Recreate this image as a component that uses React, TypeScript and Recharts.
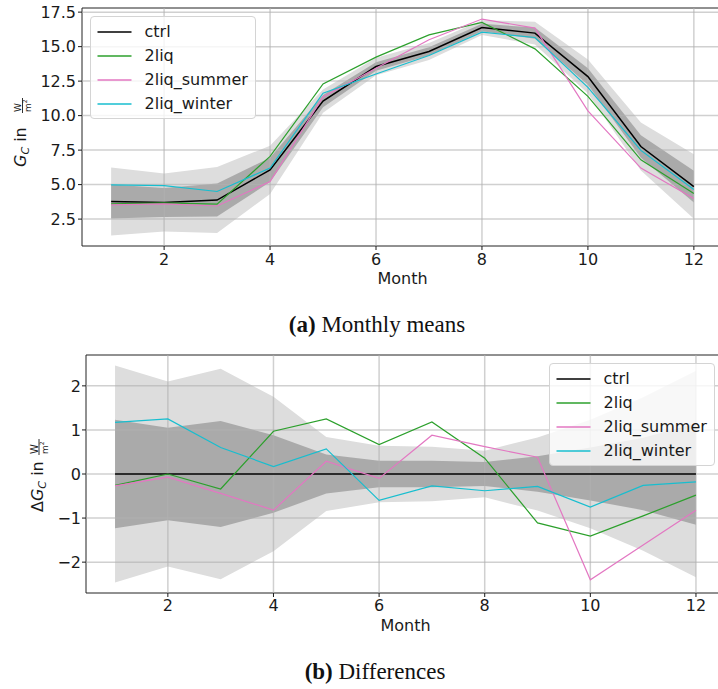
import React from 'react';
import { ComposedChart, Line, Area, XAxis, YAxis, ReferenceLine, ReferenceArea, Legend } from 'recharts';

const months = [1, 2, 3, 4, 5, 6, 7, 8, 9, 10, 11, 12];

// monthly means (W/m2)
const ctrlMean = [3.78, 3.7, 3.88, 6.07, 11.05, 13.56, 14.65, 16.38, 15.98, 12.83, 7.76, 4.86];
const liqMean = [3.6, 3.68, 3.58, 7.04, 12.3, 14.24, 15.85, 16.75, 14.84, 11.4, 6.8, 4.35];
const summerMean = [3.53, 3.6, 3.45, 5.22, 11.35, 13.44, 15.5, 17.0, 16.34, 10.35, 6.2, 4.0];
const winterMean = [4.98, 4.92, 4.5, 6.2, 11.62, 13.02, 14.36, 16.05, 15.66, 12.05, 7.48, 4.65];

// differences to ctrl
const ctrlDiff = [0, 0, 0, 0, 0, 0, 0, 0, 0, 0, 0, 0];
const liqDiff = [-0.26, 0.0, -0.34, 0.97, 1.25, 0.67, 1.18, 0.36, -1.11, -1.41, -0.95, -0.48];
const summerDiff = [-0.27, -0.07, -0.44, -0.82, 0.29, -0.1, 0.88, 0.62, 0.38, -2.4, -1.61, -0.82];
const winterDiff = [1.17, 1.25, 0.6, 0.17, 0.57, -0.6, -0.27, -0.38, -0.28, -0.75, -0.26, -0.18];

// spread of ctrl (half widths of the grey bands)
const sd1 = [1.23, 1.05, 1.2, 0.88, 0.44, 0.3, 0.3, 0.27, 0.4, 0.6, 0.82, 1.15];
const sd2 = [2.46, 2.1, 2.39, 1.75, 0.84, 0.64, 0.62, 0.53, 0.83, 1.23, 1.74, 2.34];

const xTicks = [2, 4, 6, 8, 10, 12];
const meanTicks = [2.5, 5, 7.5, 10, 12.5, 15, 17.5];
const diffTicks = [-2, -1, 0, 1, 2];

const seriesKeys = ['ctrl', 'liq', 'summer', 'winter'];
const seriesNames = ['ctrl', '2liq', '2liq_summer', '2liq_winter'];
const seriesColors = ['#000000', '#2ca02c', '#e377c2', '#17becf'];

const meanRows = months.map((m, i) => ({
  month: m,
  ctrl: ctrlMean[i],
  liq: liqMean[i],
  summer: summerMean[i],
  winter: winterMean[i],
  outer: [ctrlMean[i] - sd2[i], ctrlMean[i] + sd2[i]],
  inner: [ctrlMean[i] - sd1[i], ctrlMean[i] + sd1[i]],
}));

const diffRows = months.map((m, i) => ({
  month: m,
  ctrl: ctrlDiff[i],
  liq: liqDiff[i],
  summer: summerDiff[i],
  winter: winterDiff[i],
  outer: [-sd2[i], sd2[i]],
  inner: [-sd1[i], sd1[i]],
}));

const FONT = '"DejaVu Sans", sans-serif';
const INK = '#1a1a1a';
const X_DOMAIN: [number, number] = [0.45, 12.55];

function LegendBox() {
  return (
    <div
      style={{
        width: 166,
        height: 103,
        boxSizing: 'border-box',
        border: '1px solid #d4d4d4',
        borderRadius: 4,
        background: 'rgba(255,255,255,0.8)',
        position: 'relative',
        fontFamily: FONT,
        fontSize: 16,
        color: INK,
      }}
    >
      {seriesNames.map((n, i) => (
        <div
          key={n}
          style={{ position: 'absolute', left: 0, top: 14.5 + i * 24.3 - 10, height: 20, display: 'flex', alignItems: 'center' }}
        >
          <svg width={41} height={20} style={{ display: 'block' }}>
            <line x1={6.5} x2={40.5} y1={10} y2={10} stroke={seriesColors[i]} strokeWidth={1.5} />
          </svg>
          <span style={{ marginLeft: 12.5, lineHeight: '20px', whiteSpace: 'nowrap' }}>{n}</span>
        </div>
      ))}
    </div>
  );
}

// "G_C in W/m²" rotated, coordinates are the chart svg's own
function MeanYLabel() {
  return (
    <g transform="translate(26,167) rotate(-90)" fill={INK} fontFamily={FONT}>
      <text x={0} y={0} fontSize={16}>
        <tspan fontStyle="italic">G</tspan>
        <tspan fontStyle="italic" fontSize={11} dy={3}>C</tspan>
        <tspan dy={-3}> in</tspan>
      </text>
      <text x={55} y={-5} fontSize={9}>W</text>
      <line x1={54} x2={69} y1={-3.5} y2={-3.5} stroke={INK} strokeWidth={0.9} />
      <text x={55} y={4.5} fontSize={9}>
        m<tspan fontSize={6} dy={-3.5}>2</tspan>
      </text>
    </g>
  );
}

function DiffYLabel() {
  return (
    <g transform="translate(43,172) rotate(-90)" fill={INK} fontFamily={FONT}>
      <text x={0} y={0} fontSize={16}>
        <tspan>Δ</tspan>
        <tspan fontStyle="italic">G</tspan>
        <tspan fontStyle="italic" fontSize={11} dy={3}>C</tspan>
        <tspan dy={-3}> in</tspan>
      </text>
      <text x={58} y={-5.5} fontSize={10}>W</text>
      <line x1={57} x2={73} y1={-4} y2={-4} stroke={INK} strokeWidth={0.9} />
      <text x={58} y={4.5} fontSize={9}>
        m<tspan fontSize={6} dy={-3.5}>2</tspan>
      </text>
    </g>
  );
}

type PanelProps = {
  data: any[];
  width: number;
  height: number;
  marginTop: number;
  yAxisWidth: number;
  xAxisHeight: number;
  yDomain: [number, number];
  yTicks: number[];
  fmt: (v: number) => string;
  yTickMargin: number;
  xTickMargin: number;
  monthOffset: number;
  legendLeft: number;
  legendTop: number;
  yLabel: React.ReactElement;
};

function Panel(p: PanelProps) {
  const tickStyle = { fill: INK, fontSize: 16, fontFamily: FONT };
  return (
    <ComposedChart width={p.width} height={p.height} data={p.data} margin={{ top: p.marginTop, right: 1, left: 0, bottom: 0 }}>
      <XAxis
        dataKey="month"
        type="number"
        domain={X_DOMAIN}
        ticks={xTicks}
        allowDataOverflow
        axisLine={false}
        tickLine={{ stroke: INK }}
        tickSize={4}
        tickMargin={p.xTickMargin}
        tick={tickStyle}
        height={p.xAxisHeight}
        label={{ value: 'Month', position: 'insideBottom', offset: p.monthOffset, fill: INK, fontSize: 16, fontFamily: FONT }}
      />
      <YAxis
        type="number"
        domain={p.yDomain}
        ticks={p.yTicks}
        allowDataOverflow
        axisLine={false}
        tickLine={{ stroke: INK }}
        tickSize={4}
        tickMargin={p.yTickMargin}
        tick={tickStyle}
        tickFormatter={p.fmt}
        width={p.yAxisWidth}
        label={p.yLabel}
      />
      <Area dataKey="outer" stroke="none" fill="#dddddd" fillOpacity={1} isAnimationActive={false} dot={false} activeDot={false} />
      <Area dataKey="inner" stroke="none" fill="#aaaaaa" fillOpacity={1} isAnimationActive={false} dot={false} activeDot={false} />
      {xTicks.map((t) => (
        <ReferenceLine key={'gx' + t} x={t} stroke="#b0b0b0" strokeOpacity={0.6} strokeWidth={1.5} />
      ))}
      {p.yTicks.map((t) => (
        <ReferenceLine key={'gy' + t} y={t} stroke="#b0b0b0" strokeOpacity={0.6} strokeWidth={1.5} />
      ))}
      {seriesKeys.map((k, i) => (
        <Line
          key={k}
          dataKey={k}
          type="linear"
          stroke={seriesColors[i]}
          strokeWidth={i === 0 ? 1.5 : 1.2}
          dot={false}
          activeDot={false}
          isAnimationActive={false}
        />
      ))}
      <ReferenceArea x1={X_DOMAIN[0]} x2={X_DOMAIN[1]} y1={p.yDomain[0]} y2={p.yDomain[1]} fill="none" stroke="#222" strokeWidth={1} ifOverflow="visible" />
      <Legend
        layout="vertical"
        align="center"
        verticalAlign="middle"
        content={() => <LegendBox />}
        wrapperStyle={{ left: p.legendLeft, top: p.legendTop, width: 166, height: 103 }}
      />
    </ComposedChart>
  );
}

export default function App() {
  return (
    <div style={{ position: 'absolute', left: 0, top: 0, width: 718, height: 689, overflow: 'hidden', background: '#fff' }}>
      <div style={{ position: 'absolute', left: 0, top: 0 }}>
        <Panel
          data={meanRows}
          width={724}
          height={300}
          marginTop={8}
          yAxisWidth={82}
          xAxisHeight={54}
          yDomain={[0.55, 17.8]}
          yTicks={meanTicks}
          fmt={(v) => v.toFixed(1)}
          yTickMargin={2}
          xTickMargin={4}
          monthOffset={16}
          legendLeft={90}
          legendTop={16}
          yLabel={<MeanYLabel />}
        />
      </div>
      <div style={{ position: 'absolute', left: 0, top: 340 }}>
        <Panel
          data={diffRows}
          width={726}
          height={300}
          marginTop={15}
          yAxisWidth={86}
          xAxisHeight={47}
          yDomain={[-2.7, 2.7]}
          yTicks={diffTicks}
          fmt={(v) => (v < 0 ? '\u2212' + Math.abs(v) : String(v))}
          yTickMargin={1}
          xTickMargin={3}
          monthOffset={9}
          legendLeft={549}
          legendTop={23}
          yLabel={<DiffYLabel />}
        />
      </div>
      <svg width={718} height={689} style={{ position: 'absolute', left: 0, top: 0, pointerEvents: 'none' }}>
        <text x={377} y={332} textAnchor="middle" fontFamily='"Liberation Serif", serif' fontSize={23} fill="#111">
          <tspan fontWeight="bold">(a)</tspan> Monthly means
        </text>
        <text x={375} y={679} textAnchor="middle" fontFamily='"Liberation Serif", serif' fontSize={23} fill="#111">
          <tspan fontWeight="bold">(b)</tspan> Differences
        </text>
      </svg>
    </div>
  );
}
